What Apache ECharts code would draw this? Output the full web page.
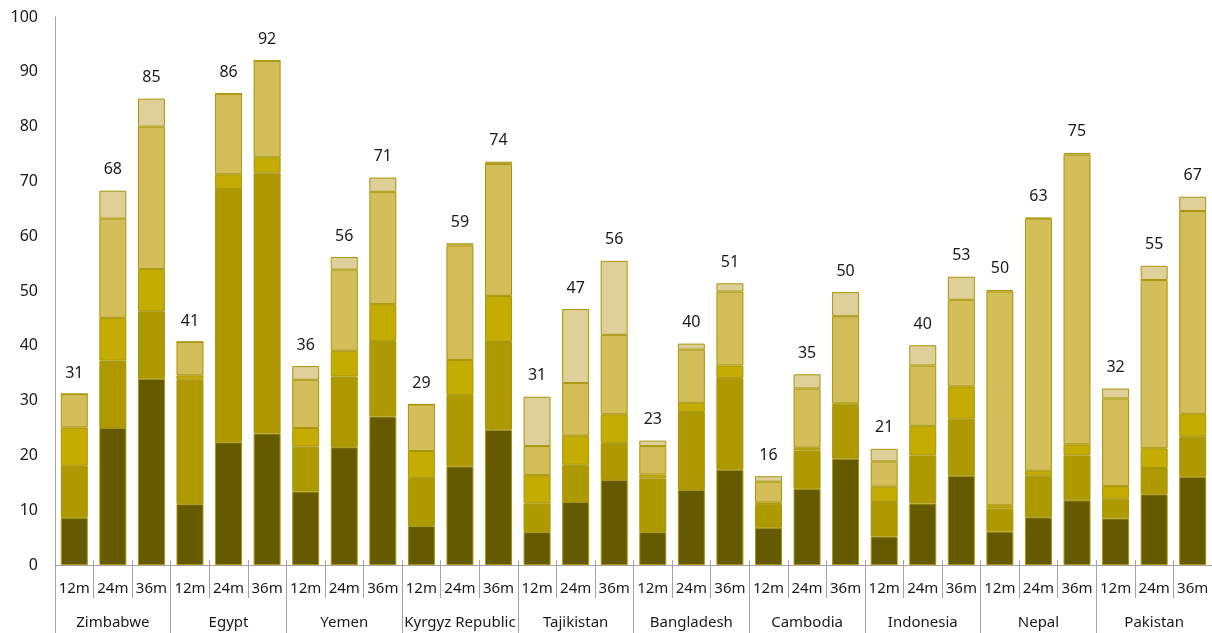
<!DOCTYPE html>
<html>
<head>
<meta charset="utf-8">
<script src="https://cdn.jsdelivr.net/npm/echarts@6/dist/echarts.min.js"></script>
<style>
  html, body { margin: 0; padding: 0; background: #fff; }
  #chart { width: 1212px; height: 633px; }
</style>
</head>
<body>
<div id="chart"></div>
<script>
// Countries and horizons (12, 24, 36 months)
const countries = ['Zimbabwe', 'Egypt', 'Yemen', 'Kyrgyz Republic', 'Tajikistan',
  'Bangladesh', 'Cambodia', 'Indonesia', 'Nepal', 'Pakistan'];
const horizons = ['12m', '24m', '36m'];

// Stacked components, one value per country/horizon (30 bars, bottom to top)
const seg1 = [8.6, 25.0, 34.0, 11.1, 22.4, 24.0, 13.4, 21.5, 27.1, 7.1, 18.0, 24.7,
  6.0, 11.5, 15.5, 6.0, 13.7, 17.4, 6.8, 13.9, 19.4, 5.2, 11.2, 16.3, 6.1, 8.7, 11.8, 8.5, 12.9, 16.1];
const seg2 = [9.5, 12.3, 12.3, 22.7, 46.2, 47.6, 8.2, 12.9, 13.8, 8.8, 13.0, 16.0,
  5.2, 6.8, 6.8, 9.8, 14.2, 16.7, 4.3, 7.0, 9.6, 6.3, 8.8, 10.4, 4.2, 7.6, 8.2, 3.6, 4.8, 7.3];
const seg3 = [7.0, 7.8, 7.7, 0.8, 2.7, 2.8, 3.4, 4.7, 6.7, 4.9, 6.4, 8.4,
  5.2, 5.3, 5.2, 0.7, 1.7, 2.3, 0.3, 0.5, 0.5, 2.8, 5.4, 5.9, 0.6, 0.9, 2.0, 2.3, 3.6, 4.2];
const seg4 = [6.1, 18.1, 26.0, 6.1, 14.7, 17.6, 8.8, 14.8, 20.5, 8.5, 20.9, 24.1,
  5.3, 9.6, 14.5, 5.2, 9.7, 13.5, 3.8, 10.8, 15.9, 4.6, 11.0, 15.8, 39.0, 46.0, 52.9, 16.0, 30.7, 37.0];
const seg5 = [0, 5.1, 5.1, 0, 0, 0, 2.5, 2.3, 2.6, 0, 0.4, 0.4,
  9.0, 13.5, 13.5, 1.0, 1.1, 1.5, 1.0, 2.6, 4.4, 2.3, 3.7, 4.2, 0.3, 0.2, 0.3, 1.8, 2.6, 2.6];

const yTicks = [0, 10, 20, 30, 40, 50, 60, 70, 80, 90, 100];

const segments = [seg1, seg2, seg3, seg4, seg5];
const colors = ['#665A00', '#AE9A00', '#C4AC00', '#D4BE5A', '#DFD09A'];

const barCategories = [];
countries.forEach(() => horizons.forEach(h => barCategories.push(h)));
const totals = seg1.map((_, i) => segments.reduce((s, arr) => s + arr[i], 0));

const FONT = 'Noto Sans';
const TXT = '#1a1a1a';
const AX = '#a3a3a3';

const series = segments.map((arr, k) => ({
  type: 'bar',
  stack: 'total',
  xAxisIndex: 0,
  barWidth: 27,
  data: arr,
  itemStyle: { color: colors[k], borderColor: '#A8950A', borderWidth: 1 },
  emphasis: { disabled: true },
  animation: false
}));

// Invisible cap carrying the total label on top of each stack
series.push({
  type: 'bar',
  stack: 'total',
  xAxisIndex: 0,
  barWidth: 27,
  data: totals.map(() => 0),
  itemStyle: { color: 'transparent', borderWidth: 0 },
  label: {
    show: true,
    position: 'top',
    distance: 13,
    fontFamily: FONT,
    fontSize: 16,
    color: TXT,
    formatter: p => String(Math.round(totals[p.dataIndex]))
  },
  emphasis: { disabled: true },
  animation: false
});

const option = {
  animation: false,
  grid: { left: 55, right: 0, top: 17, bottom: 68, containLabel: false },
  yAxis: {
    type: 'value',
    min: 0,
    max: 100,
    interval: 10,
    axisLine: { show: true, lineStyle: { color: AX, width: 1 } },
    axisTick: { show: false },
    splitLine: { show: false },
    axisLabel: {
      margin: 17,
      fontFamily: FONT,
      fontSize: 16,
      color: TXT,
      formatter: v => yTicks.includes(v) ? String(v) : ''
    }
  },
  xAxis: [
    {
      type: 'category',
      data: barCategories,
      position: 'bottom',
      axisLine: { show: true, lineStyle: { color: AX, width: 1 } },
      axisTick: { show: true, interval: 0, length: 33, lineStyle: { color: AX } },
      axisLabel: { interval: 0, margin: 16, fontFamily: FONT, fontSize: 15, color: TXT }
    },
    {
      type: 'category',
      data: countries,
      position: 'bottom',
      axisLine: { show: false },
      axisTick: { show: true, interval: 0, length: 68, lineStyle: { color: AX } },
      axisLabel: { interval: 0, margin: 50, fontFamily: FONT, fontSize: 15, color: TXT }
    },
    {
      type: 'category',
      data: barCategories,
      position: 'bottom',
      axisLine: { show: false },
      axisTick: { show: true, inside: true, interval: 0, length: 5, lineStyle: { color: AX } },
      axisLabel: { show: false }
    }
  ],
  series: series
};

const chart = echarts.init(document.getElementById('chart'), null, { renderer: 'canvas' });
chart.setOption(option);
</script>
</body>
</html>
